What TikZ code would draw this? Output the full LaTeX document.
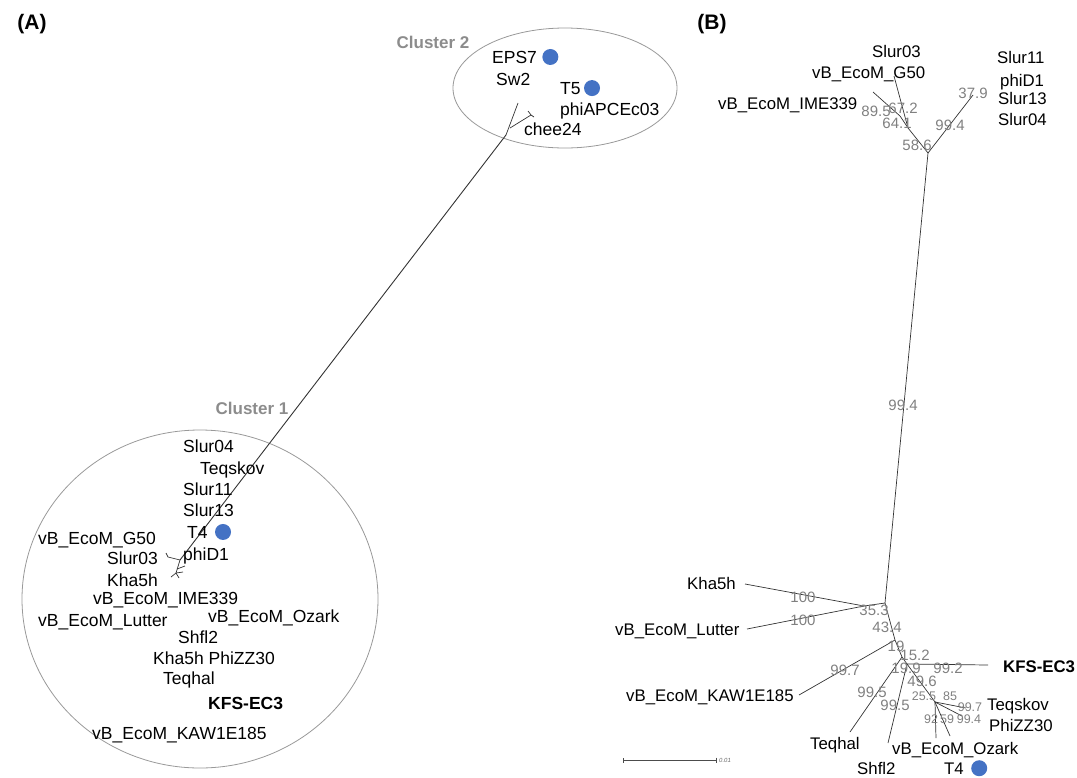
\documentclass[tikz,border=0pt]{standalone}
\usepackage{fontspec}
\setmainfont{Liberation Sans}
\usepackage{xcolor}
\usetikzlibrary{positioning, arrows.meta}
\definecolor{dotblue}{HTML}{4472C4}
\tikzset{
  leafA/.style={
    anchor=base west, inner sep=0pt,
    font=\fontsize{17.5}{20}\selectfont
  },
  leafB/.style={
    anchor=base west, inner sep=0pt,
    font=\fontsize{16.8}{19}\selectfont
  },
  bootval/.style={
    inner sep=0pt, text=black!50,
    font=\fontsize{15}{17}\selectfont
  },
  bootsmall/.style={
    bootval, font=\fontsize{12.5}{14}\selectfont
  },
  clusterlab/.style={
    inner sep=0pt, text=black!45,
    font=\fontsize{17}{19}\selectfont\bfseries
  },
  panellab/.style={
    inner sep=0pt, font=\fontsize{21}{24}\selectfont\bfseries
  },
  clusterring/.style={draw=black!40, line width=0.8pt},
  phagedot/.style={
    circle, fill=dotblue, inner sep=0pt, minimum size=16pt
  },
  branch/.style={draw=black!80, line width=0.7pt}
}

\begin{document}
\begin{tikzpicture}[x=1pt, y=-1pt]
    \useasboundingbox (0,0) rectangle (1077,777);

    % panel labels
    \node[panellab] (panA) at (32,24) {(A)};
    \node[panellab] (panB) at (712,24) {(B)};

    % (A) clusters
    \draw[clusterring] (565,88) ellipse (112 and 60);
    \draw[clusterring] (200,599) ellipse (178 and 169);
    \node[clusterlab] (clus2) at (433,42) {Cluster 2};
    \node[clusterlab] (clus1) at (252,408) {Cluster 1};

    % (A) tree
    \coordinate (aTop) at (506,135);
    \coordinate (aSw) at (518,103);
    \coordinate (aChee) at (510,128);
    \coordinate (aCheeT) at (531,115);
    \coordinate (aBot) at (180,560);
    \draw[branch] (aTop) -- (aSw);
    \draw[branch] (aChee) -- (aCheeT);
    \draw[branch] (aCheeT) -- ++(-3,-4) (aCheeT) -- ++(3,2);
    \draw[branch, line width=0.9pt] (aTop) -- (aBot);
    \draw[branch] (aBot) -- ++(-12,-3) -- ++(-2,-4);
    \draw[branch] (aBot) -- ++(-4,13) -- ++(-5,4);
    \draw[branch] (aBot) ++(-4,13) -- ++(3,5);
    \draw[branch] (aBot) ++(-4,13) -- ++(7,-1);
    \draw[branch] (aBot) ++(-3,9) -- ++(8,-3);

    % (A) cluster 2 leaves
    \node[leafA] (epsA) at (492,63) {EPS7};
    \node[phagedot, right=5pt of epsA] (epsDot) {};
    \node[leafA] (swA) at (496,85) {Sw2};
    \node[leafA] (tfiveA) at (560,94) {T5};
    \node[phagedot, right=3pt of tfiveA] (tfiveDot) {};
    \node[leafA] (apceA) at (560,115) {phiAPCEc03};
    \node[leafA] (cheeA) at (524,135) {chee24};

    % (A) cluster 1 leaves
    \node[leafA] (sfourA) at (183,452) {Slur04};
    \node[leafA] (tskA) at (200,474) {Teqskov};
    \node[leafA] (selevA) at (183,495) {Slur11};
    \node[leafA] (sthirA) at (183,516) {Slur13};
    \node[leafA] (tfourA) at (187,538) {T4};
    \node[phagedot, right=7pt of tfourA] (tfourDotA) {};
    \node[leafA] (phidA) at (183,560) {phiD1};
    \node[leafA] (gfiftyA) at (38,544) {vB\_EcoM\_G50};
    \node[leafA] (sthreeA) at (107,564) {Slur03};
    \node[leafA] (khaA) at (107,586) {Kha5h};
    \node[leafA] (imeA) at (93,604) {vB\_EcoM\_IME339};
    \node[leafA] (lutA) at (38,626) {vB\_EcoM\_Lutter};
    \node[leafA] (ozaA) at (208,622) {vB\_EcoM\_Ozark};
    \node[leafA] (shfA) at (178,643) {Shfl2};
    \node[leafA] (phizA) at (153,664) {Kha5h PhiZZ30};
    \node[leafA] (thalA) at (163,684) {Teqhal};
    \node[leafA, font=\fontsize{17.5}{20}\selectfont\bfseries] (kfsA) at (208,709) {KFS-EC3};
    \node[leafA] (kawA) at (92,739) {vB\_EcoM\_KAW1E185};

    % (B) tree
    \coordinate (bRoot) at (928,153);
    \coordinate (bLa) at (908,128);
    \coordinate (bLb) at (900,116);
    \coordinate (bGfifty) at (894,76);
    \coordinate (bIme) at (873,92);
    \coordinate (bRt) at (973,95);
    \coordinate (bMid) at (885,603);
    \coordinate (bKh) at (864,606);
    \coordinate (bKhT) at (745,584);
    \coordinate (bLutT) at (747,629);
    \coordinate (bZ) at (895,640);
    \coordinate (bKawT) at (799,695);
    \coordinate (bW) at (902,657);
    \coordinate (bThalT) at (850,732);
    \coordinate (bV) at (907,664);
    \coordinate (bShfT) at (888,743);
    \coordinate (bKfsT) at (988,665);
    \coordinate (bU) at (935,702);
    \draw[branch] (bRoot) -- (bLa) -- (bLb) -- (bIme);
    \draw[branch] (bLa) -- (bGfifty);
    \draw[branch] (bRoot) -- (bRt);
    \draw[branch] (bRoot) -- (bMid);
    \draw[branch] (bMid) -- (bKh);
    \draw[branch] (bKh) -- (bKhT);
    \draw[branch] (bKh) -- (bLutT);
    \draw[branch] (bMid) -- (bZ) -- (bW) -- (bV);
    \draw[branch] (bZ) -- (bKawT);
    \draw[branch] (bW) -- (bThalT);
    \draw[branch] (bV) -- (bShfT);
    \draw[branch] (bV) -- (bKfsT);
    \draw[branch] (bV) -- (bU);
    \draw[branch] (bU) -- ++(1,36);
    \draw[branch] (bU) -- ++(15,34);
    \draw[branch] (bU) -- ++(27,14);
    \draw[branch] (bU) -- ++(31,6);

    % (B) bootstrap values
    \node[bootval] (bsa) at (917,145) {58.6};
    \node[bootval] (bsb) at (897,123) {64.1};
    \node[bootval] (bsc) at (876,111) {89.5};
    \node[bootval] (bsd) at (903,108) {67.2};
    \node[bootval] (bse) at (950,125) {99.4};
    \node[bootval] (bsf) at (973,93) {37.9};
    \node[bootval] (bsg) at (903,405) {99.4};
    \node[bootval] (bsh) at (803,597) {100};
    \node[bootval] (bsi) at (803,620) {100};
    \node[bootval] (bsj) at (874,610) {35.3};
    \node[bootval] (bsk) at (887,627) {43.4};
    \node[bootval] (bsl) at (845,670) {99.7};
    \node[bootval] (bsm) at (896,646) {19};
    \node[bootval] (bsn) at (915,655) {15.2};
    \node[bootval] (bso) at (906,668) {19.9};
    \node[bootval] (bsp) at (948,668) {99.2};
    \node[bootval] (bsq) at (922,681) {49.6};
    \node[bootval] (bsr) at (872,692) {99.5};
    \node[bootval] (bss) at (895,705) {99.5};
    \node[bootsmall] (bst) at (924,696) {25.5};
    \node[bootsmall] (bsu) at (950,696) {85};
    \node[bootsmall] (bsv) at (970,707) {99.7};
    \node[bootsmall] (bsw) at (969,719) {99.4};
    \node[bootsmall] (bsx) at (931,719) {92};
    \node[bootsmall] (bsy) at (947,719) {59};

    % (B) leaves
    \node[leafB] (sthreeB) at (872,57) {Slur03};
    \node[leafB] (gfiftyB) at (812,78) {vB\_EcoM\_G50};
    \node[leafB] (imeB) at (718,109) {vB\_EcoM\_IME339};
    \node[leafB] (selevB) at (997,63) {Slur11};
    \node[leafB] (phidB) at (1000,86) {phiD1};
    \node[leafB] (sthirB) at (998,104) {Slur13};
    \node[leafB] (sfourB) at (998,125) {Slur04};
    \node[leafB] (khaB) at (687,589) {Kha5h};
    \node[leafB] (lutB) at (615,635) {vB\_EcoM\_Lutter};
    \node[leafB] (kawB) at (626,701) {vB\_EcoM\_KAW1E185};
    \node[leafB] (thalB) at (810,749) {Teqhal};
    \node[leafB] (shfB) at (857,774) {Shfl2};
    \node[leafB, font=\fontsize{16.8}{19}\selectfont\bfseries] (kfsB) at (1003,672) {KFS-EC3};
    \node[leafB] (tskB) at (987,710) {Teqskov};
    \node[leafB] (phizB) at (989,731) {PhiZZ30};
    \node[leafB] (ozaB) at (892,754) {vB\_EcoM\_Ozark};
    \node[leafB] (tfourB) at (944,774) {T4};
    \node[phagedot, right=7pt of tfourB] (tfourDotB) {};

    % scale bar
    \coordinate (sbL) at (623,760);
    \coordinate (sbR) at (717,760);
    \draw[draw=black!70, line width=0.6pt, {Bar[width=5pt]}-{Bar[width=5pt]}] (sbL) -- (sbR);
    \node[right=2pt of sbR, inner sep=0pt, text=black!60,
      font=\fontsize{6}{7}\selectfont\itshape] (sbLab) {0.01};
  \end{tikzpicture}
\end{document}
